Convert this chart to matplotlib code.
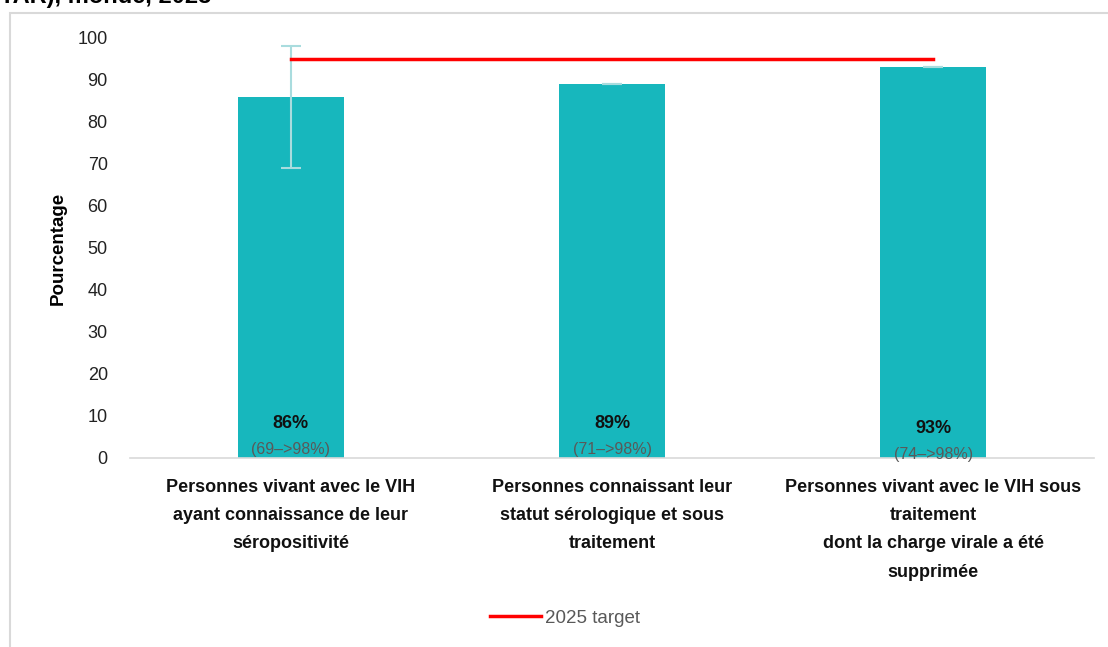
import matplotlib
matplotlib.use("Agg")
import matplotlib.pyplot as plt
from matplotlib.patches import Rectangle
from matplotlib.lines import Line2D

# Cascade data (percent)
categories = [
    "Personnes vivant avec le VIH\nayant connaissance de leur\nséropositivité",
    "Personnes connaissant leur\nstatut sérologique et sous\ntraitement",
    "Personnes vivant avec le VIH sous\ntraitement\ndont la charge virale a été\nsupprimée",
]
values = [86, 89, 93]
lower = [69, 89, 93]
upper = [98, 89, 93]
range_labels = ["(69–>98%)", "(71–>98%)", "(74–>98%)"]
target = 95
yticks = [0, 10, 20, 30, 40, 50, 60, 70, 80, 90, 100]

BAR = "#17B7BD"
ERR = "#A9DCDE"
RED = "#FF0000"
GRAY = "#595959"

fig = plt.figure(figsize=(11.08, 6.47), dpi=100)
fig.patch.set_facecolor("white")

# outer chart frame
fig.add_artist(Rectangle((10 / 1108, -0.05), 1.2, (647 - 13) / 647 + 0.05,
                         transform=fig.transFigure, fill=False,
                         edgecolor="#D9D9D9", linewidth=1.5))

# partially visible heading line
fig.text(0.0, 1.0 + 0.006, "TAR), monde, 2023", ha="left", va="center",
         fontsize=17, fontweight="bold", family="Liberation Sans", color="black")

ax = fig.add_axes([130 / 1108, (647 - 458) / 647, (1094 - 130) / 1108, 420 / 647])
x = list(range(len(values)))
ax.bar(x, values, width=0.33, color=BAR, zorder=2)

# uncertainty bars
err_lo = [v - l for v, l in zip(values, lower)]
err_hi = [u - v for v, u in zip(values, upper)]
ax.errorbar(x, values, yerr=[err_lo, err_hi], fmt="none", ecolor=ERR,
            elinewidth=1.5, capsize=7, capthick=1.5, zorder=3)

# 2025 target line
ax.plot([x[0], x[-1]], [target, target], color=RED, linewidth=2.5, zorder=4)

# value and range labels inside bars
for xi, v, rl in zip(x, values, range_labels):
    off = 1.2 if v >= 93 else 0
    ax.text(xi, 8.3 - off, f"{v}%", ha="center", va="center", fontsize=13,
            fontweight="bold", family="Liberation Sans", color="#111111", zorder=5)
    ax.text(xi, 2.0 - off, rl, ha="center", va="center", fontsize=11.5,
            family="Liberation Sans", color=GRAY, zorder=5)

ax.set_xlim(-0.5, 2.5)
ax.set_ylim(0, 100)
ax.set_yticks(yticks)
ax.set_yticklabels([str(t) for t in yticks], fontsize=13,
                   family="Liberation Sans", color="#222222")
ax.set_xticks(x)
ax.set_xticklabels(categories, fontsize=13, fontweight="bold",
                   family="Liberation Sans", linespacing=1.87, color="#111111")
ax.tick_params(axis="y", length=0, pad=16)
ax.tick_params(axis="x", length=0, pad=15)
for s in ["top", "right", "left"]:
    ax.spines[s].set_visible(False)
ax.spines["bottom"].set_color("#D9D9D9")
ax.spines["bottom"].set_linewidth(1.2)

ax.set_ylabel("Pourcentage", fontsize=13.5, fontweight="bold",
              family="Liberation Sans", labelpad=8)

handle = Line2D([], [], color=RED, linewidth=2.5)
fig.legend([handle], ["2025 target"], loc="center", bbox_to_anchor=(0.51, (647 - 618) / 647),
           frameon=False, prop={"family": "Liberation Sans", "size": 13.5},
           labelcolor=GRAY, handlelength=2.7, handletextpad=0.2)

fig.savefig("out.png", dpi=100, facecolor="white")
